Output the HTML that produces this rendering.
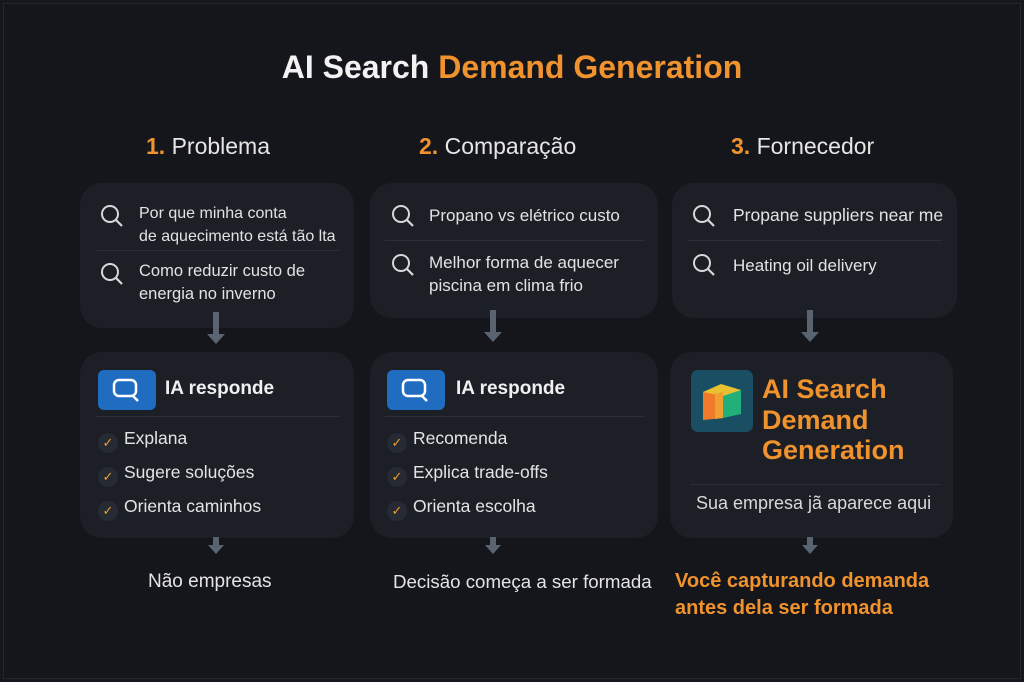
<!DOCTYPE html>
<html><head><meta charset="utf-8"><style>
*{margin:0;padding:0;box-sizing:border-box}
body{width:1024px;height:682px;background:#15171c;font-family:"Liberation Sans",sans-serif;color:#e6e6e6;position:relative;overflow:hidden}
.frame{position:absolute;left:3px;top:3px;width:1018px;height:676px;background:#14161b;border:1px solid #23262d}
.a{position:absolute}
.card{position:absolute;background:#1c1f26;border-radius:22px}
.t{position:absolute;white-space:nowrap}
.o{color:#f0922e}
.q{font-size:17px;color:#e2e2e2;line-height:23px}
.chk{position:absolute;font-size:17.5px;color:#e4e4e4}
.chk span{display:inline-block;width:20px;height:20px;border-radius:50%;background:#262a33;color:#f0a030;font-size:13px;text-align:center;line-height:20px;margin-right:6px;vertical-align:-3px}
.ia{position:absolute;width:58px;height:40px;background:#1f6cc0;border-radius:6px}
.sep{position:absolute;height:1px;background:#2a2e36}
</style></head><body>
<div class="frame"></div>
<div class="t" style="left:0;width:1024px;text-align:center;top:49px;font-size:32px;font-weight:bold;color:#f2f2f2">AI Search <span class="o">Demand Generation</span></div>
<div class="t" style="left:146px;top:133px;font-size:23px"><b class="o">1.</b> Problema</div>
<div class="t" style="left:419px;top:133px;font-size:23px"><b class="o">2.</b> Comparação</div>
<div class="t" style="left:731px;top:133px;font-size:23px"><b class="o">3.</b> Fornecedor</div>

<svg class="a" style="left:0;top:0" width="1024" height="682">
<defs><g id="mag"><circle cx="0" cy="0" r="8" fill="none" stroke="#d8d8d8" stroke-width="2"/><line x1="6" y1="6" x2="12" y2="12" stroke="#d8d8d8" stroke-width="2.2"/></g>
<g id="arr"><rect x="-3" y="0" width="6" height="22" fill="#5a6470"/><polygon points="-9,22 9,22 0,32" fill="#5a6470"/></g>
<g id="arrs"><rect x="-3" y="0" width="6" height="8" fill="#5a6470"/><polygon points="-8,8 8,8 0,17" fill="#5a6470"/></g></defs>
</svg>

<div class="card" style="left:80px;top:183px;width:274px;height:145px"></div>
<div class="card" style="left:370px;top:183px;width:288px;height:135px"></div>
<div class="card" style="left:672px;top:183px;width:285px;height:135px"></div>
<div class="card" style="left:80px;top:352px;width:274px;height:186px"></div>
<div class="card" style="left:370px;top:352px;width:288px;height:186px"></div>
<div class="card" style="left:670px;top:352px;width:283px;height:186px"></div>

<svg class="a" style="left:0;top:0" width="1024" height="682">
<use href="#mag" x="110" y="214"/><use href="#mag" x="110" y="272"/>
<use href="#mag" x="401" y="214"/><use href="#mag" x="401" y="263"/>
<use href="#mag" x="702" y="214"/><use href="#mag" x="702" y="263"/>
<use href="#arr" x="216" y="312"/><use href="#arr" x="493" y="310"/><use href="#arr" x="810" y="310"/>
<use href="#arrs" x="216" y="537"/><use href="#arrs" x="493" y="537"/><use href="#arrs" x="810" y="537"/>
</svg>
<div class="sep" style="left:95px;top:250px;width:245px"></div>
<div class="sep" style="left:385px;top:240px;width:260px"></div>
<div class="sep" style="left:687px;top:240px;width:255px"></div>

<div class="t q" style="left:139px;top:202px;font-size:16px">Por que minha conta<br>de aquecimento está tão lta</div>
<div class="t q" style="left:139px;top:260px;font-size:16.5px">Como reduzir custo de<br>energia no inverno</div>
<div class="t q" style="left:429px;top:204px">Propano vs elétrico custo</div>
<div class="t q" style="left:429px;top:251px">Melhor forma de aquecer<br>piscina em clima frio</div>
<div class="t q" style="left:733px;top:204px;font-size:17.5px">Propane suppliers near me</div>
<div class="t q" style="left:733px;top:254px">Heating oil delivery</div>

<div class="ia" style="left:98px;top:370px"><svg width="58" height="40"><rect x="16" y="10" width="22" height="16" rx="5" fill="none" stroke="#fff" stroke-width="2.5"/><line x1="34" y1="25" x2="40" y2="31" stroke="#fff" stroke-width="2.5"/></svg></div>
<div class="ia" style="left:387px;top:370px"><svg width="58" height="40"><rect x="16" y="10" width="22" height="16" rx="5" fill="none" stroke="#fff" stroke-width="2.5"/><line x1="34" y1="25" x2="40" y2="31" stroke="#fff" stroke-width="2.5"/></svg></div>
<div class="t" style="left:165px;top:378px;font-size:19px;font-weight:bold;color:#f0f0f0">IA responde</div>
<div class="t" style="left:456px;top:378px;font-size:19px;font-weight:bold;color:#f0f0f0">IA responde</div>
<div class="sep" style="left:95px;top:416px;width:245px"></div>
<div class="sep" style="left:385px;top:416px;width:260px"></div>
<div class="chk" style="left:98px;top:428px"><span>✓</span>Explana</div>
<div class="chk" style="left:98px;top:462px"><span>✓</span>Sugere soluções</div>
<div class="chk" style="left:98px;top:496px"><span>✓</span>Orienta caminhos</div>
<div class="chk" style="left:387px;top:428px"><span>✓</span>Recomenda</div>
<div class="chk" style="left:387px;top:462px"><span>✓</span>Explica trade-offs</div>
<div class="chk" style="left:387px;top:496px"><span>✓</span>Orienta escolha</div>

<div class="a" style="left:691px;top:370px;width:62px;height:62px;background:#1a4f63;border-radius:7px"><svg width="62" height="62"><polygon points="12,22 32,16 32,48 12,50" fill="#f07a2a"/><polygon points="32,16 50,20 50,44 32,48" fill="#22b07a"/><polygon points="12,22 30,14 50,20 32,26" fill="#e8c030"/><polygon points="24,24 32,22 32,48 24,49" fill="#f0a030"/></svg></div>
<div class="t o" style="left:762px;top:374px;font-size:27px;font-weight:bold;line-height:30.5px">AI Search<br>Demand<br>Generation</div>
<div class="sep" style="left:690px;top:484px;width:250px"></div>
<div class="t" style="left:696px;top:493px;font-size:18px;color:#d8d8d8">Sua empresa jã aparece aqui</div>

<div class="t" style="left:148px;top:571px;font-size:19px;color:#e4e4e4">Não empresas</div>
<div class="t" style="left:393px;top:571px;font-size:18.7px;color:#e4e4e4">Decisão começa a ser formada</div>
<div class="t o" style="left:675px;top:568px;font-size:20px;font-weight:bold;line-height:27px">Você capturando demanda<br>antes dela ser formada</div>
</body></html>
